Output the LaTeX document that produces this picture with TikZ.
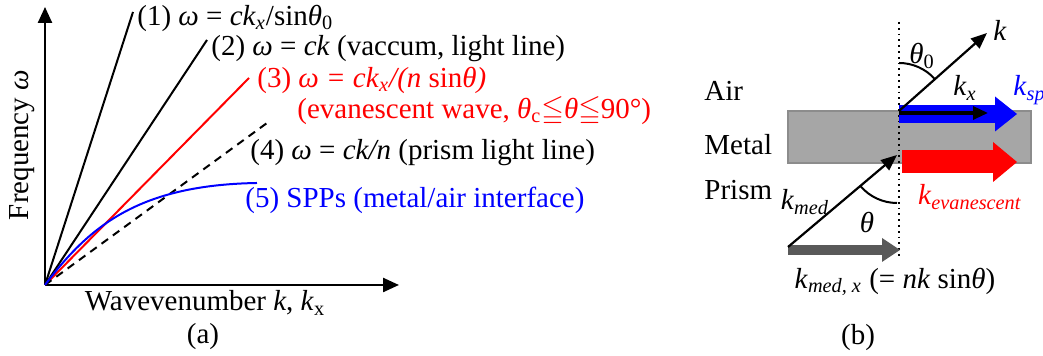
\documentclass[tikz,border=0pt]{standalone}
\usepackage{fontspec}
\setmainfont{Liberation Serif}
\usepackage{amssymb}
\usetikzlibrary{arrows.meta, calc}
\definecolor{sppblue}{HTML}{0000FF}
\definecolor{evanred}{HTML}{FF0000}
\definecolor{metalgray}{HTML}{A6A6A6}
\definecolor{darkgray}{HTML}{595959}
\newcommand{\iv}[1]{\textit{#1}}

\begin{document}
\begin{tikzpicture}[x=0.5pt, y=0.5pt, font=\fontsize{14.5}{17}\selectfont,
    axis/.style={line width=1.2pt, -{Triangle[length=8pt, width=7pt]}},
    curve/.style={line width=1pt},
    vec/.style={line width=1.1pt, -{Triangle[length=8pt, width=6.5pt]}},
    lbl/.style={inner sep=0pt, anchor=west}]
  \useasboundingbox (0,0) rectangle (1043,356);

  % (a) dispersion diagram
  \coordinate (O) at (45,71);
  \coordinate (ytip) at (45,349);
  \coordinate (xtip) at (399,71);
  \coordinate (l1) at (133,344);
  \coordinate (l2) at (207,316);
  \coordinate (l3) at (249,278);
  \coordinate (l4) at (267,233);
  \coordinate (l5) at (257,173);
  \draw[axis] (O) -- (ytip);
  \draw[axis] (O) -- (xtip);
  \draw[curve] (O) -- (l1);
  \draw[curve] (O) -- (l2);
  \draw[curve, evanred] (O) -- (l3);
  \draw[curve, dash pattern=on 4pt off 3pt] (O) -- (l4);
  \draw[curve, sppblue] (O) .. controls (90,131) and (140,171) .. (l5);
  \node[lbl] (t1) at (137,338) {(1) \iv{ω} = \iv{ck}\textsubscript{\iv{x}}/sin\iv{θ}\textsubscript{0}};
  \node[lbl] (t2) at (211,307) {(2) \iv{ω} = \iv{ck} (vaccum, light line)};
  \node[lbl, text=evanred] (t3) at (257,276) {(3) \iv{ω = ck}\textsubscript{\iv{x}}\iv{/(n} sin\iv{θ)}};
  \node[lbl, text=evanred] (t3b) at (297,245) {(evanescent wave, \iv{θ}\textsubscript{c}$\leqq$\iv{θ}$\leqq$90°)};
  \node[lbl] (t4) at (250,203) {(4) \iv{ω} = \iv{ck/n} (prism light line)};
  \node[lbl, text=sppblue] (t5) at (245,156) {(5) SPPs (metal/air interface)};
  \node[rotate=90] (ylab) at (22,211) {Frequency \iv{ω}};
  \node (xlab) at (205,53) {Wavevenumber \iv{k}, \iv{k}\textsubscript{x}};
  \node (capa) at (203,19) {(a)};

  % (b) prism coupling
  \draw[draw=gray!90, fill=metalgray, line width=0.6pt] (788,193) rectangle (1031,245);
  \coordinate (ntop) at (899,334);
  \coordinate (nbot) at (899,99);
  \coordinate (P) at (899,245);
  \coordinate (ktip) at (987,323);
  \coordinate (kmed0) at (788,109);
  \coordinate (kmed1) at (897,201);
  \draw[line width=0.9pt, dotted] (ntop) -- (nbot);
  \draw[sppblue, line width=9pt, -{Triangle[length=11pt, width=17.5pt, line width=0pt]}]
    (899,242) -- (1017,242);
  \draw[evanred, line width=11.5pt, -{Triangle[length=12pt, width=20pt, line width=0pt]}]
    (902,194) -- (1017,194);
  \draw[darkgray, line width=5pt, -{Triangle[length=9pt, width=12pt, line width=0pt]}]
    (788,106) -- (900,106);
  \draw[line width=1.6pt, -{Triangle[length=7.5pt, width=6.5pt]}] (P) ++(0,-2) -- (988,243);
  \draw[vec] (P) -- (ktip);
  \draw[vec] (kmed0) -- (kmed1);
  \draw[line width=1pt] (899,293) arc[start angle=90, end angle=42, radius=48];
  \draw[line width=1pt] ($(kmed1)+(220:48)$) arc[start angle=220, end angle=270, radius=48];
  \node[inner sep=0pt] (klab) at (1000,326) {\iv{k}};
  \node (th0) at (922,300) {\iv{θ}\textsubscript{0}};
  \node (kx) at (965,268) {\iv{k}\textsubscript{\iv{x}}};
  \node[lbl, text=sppblue] (ksp) at (1013,266) {\iv{k}\textsubscript{\iv{sp}}};
  \node[text=evanred] (kev) at (970,159) {\iv{k}\textsubscript{\iv{evanescent}}};
  \node (kmed) at (805,154) {\iv{k}\textsubscript{\iv{med}}};
  \node (th) at (867,133) {\iv{θ}};
  \node (kmedx) at (895,74) {\iv{k}\textsubscript{\iv{med, x}} (= \iv{nk} sin\iv{θ})};
  \node[lbl] (air) at (704,265) {Air};
  \node[lbl] (metal) at (704,211) {Metal};
  \node[lbl] (prism) at (704,166) {Prism};
  \node (capb) at (858,18) {(b)};
\end{tikzpicture}
\end{document}
